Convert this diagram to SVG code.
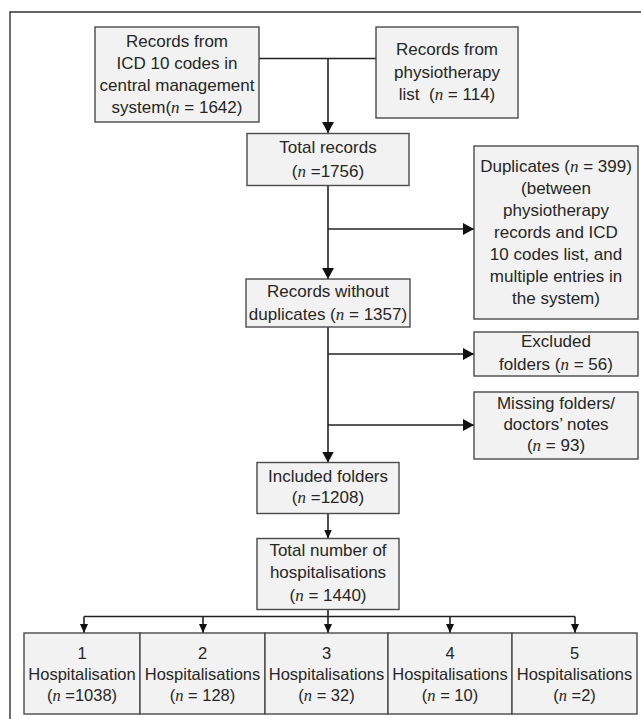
<svg xmlns="http://www.w3.org/2000/svg" width="641" height="719" viewBox="0 0 641 719">
<style>
.bx{fill:#f2f2f2;stroke:#4a4a4a;stroke-width:1.4}
.t{font-family:"Liberation Sans",Arial,sans-serif;font-size:17px;fill:#262626;text-anchor:middle}
.s{font-size:16.5px}
.n{font-family:"Liberation Serif","Times New Roman",serif;font-style:italic}
.c{fill:none;stroke:#222;stroke-width:1.6}
.f{fill:none;stroke:#333;stroke-width:1.4}
</style>
<defs>
<marker id="ab" viewBox="0 0 11 12" refX="11" refY="6" markerWidth="11" markerHeight="12" markerUnits="userSpaceOnUse" orient="auto"><path d="M0,0 L11,6 L0,12 z" fill="#111"/></marker>
<marker id="as" viewBox="0 0 9 8" refX="9" refY="4" markerWidth="9" markerHeight="8" markerUnits="userSpaceOnUse" orient="auto"><path d="M0,0 L9,4 L0,8 z" fill="#111"/></marker>
</defs>
<rect width="641" height="719" fill="#fff"/>
<path class="f" d="M10,719 V12 H641"/>

<g id="connectors">
<path class="c" d="M259,58.5 H376"/>
<path class="c" d="M328,58.5 V133" marker-end="url(#ab)"/>
<path class="c" d="M328,185 V279" marker-end="url(#ab)"/>
<path class="c" d="M328,229 H474" marker-end="url(#ab)"/>
<path class="c" d="M328,327 V462.5" marker-end="url(#ab)"/>
<path class="c" d="M328,354 H474" marker-end="url(#ab)"/>
<path class="c" d="M328,425 H474" marker-end="url(#ab)"/>
<path class="c" d="M328,513.5 V538.5" marker-end="url(#as)"/>
<path class="c" d="M328,609 V616.5 M84,616.5 H575"/>
<path class="c" d="M84,616.5 V633" marker-end="url(#as)"/>
<path class="c" d="M203,616.5 V633" marker-end="url(#as)"/>
<path class="c" d="M328,616.5 V633" marker-end="url(#as)"/>
<path class="c" d="M450,616.5 V633" marker-end="url(#as)"/>
<path class="c" d="M575,616.5 V633" marker-end="url(#as)"/>
</g>

<g id="icd">
<rect class="bx" x="95" y="27" width="164" height="95"/>
<text class="t" x="177" y="47">Records from</text>
<text class="t" x="177" y="69">ICD 10 codes in</text>
<text class="t" x="177" y="91">central management</text>
<text class="t" x="177" y="113">system(<tspan class="n">n</tspan> = 1642)</text>
</g>

<g id="physio">
<rect class="bx" x="376" y="27" width="142" height="91"/>
<text class="t" x="447" y="55">Records from</text>
<text class="t" x="447" y="78">physiotherapy</text>
<text class="t" x="447" y="100" xml:space="preserve">list  (<tspan class="n">n</tspan> = 114)</text>
</g>

<g id="total">
<rect class="bx" x="247" y="133.5" width="162" height="52"/>
<text class="t" x="328" y="153">Total records</text>
<text class="t" x="328" y="177">(<tspan class="n">n</tspan> =1756)</text>
</g>

<g id="duplicates">
<rect class="bx" x="474" y="146" width="164" height="173"/>
<text class="t" x="556" y="172">Duplicates (<tspan class="n">n</tspan> = 399)</text>
<text class="t" x="556" y="194">(between</text>
<text class="t" x="556" y="216">physiotherapy</text>
<text class="t" x="556" y="238">records and ICD</text>
<text class="t" x="556" y="260">10 codes list, and</text>
<text class="t" x="556" y="282">multiple entries in</text>
<text class="t" x="556" y="304">the system)</text>
</g>

<g id="nodup">
<rect class="bx" x="246" y="279" width="164" height="48"/>
<text class="t" x="328" y="297">Records without</text>
<text class="t" x="328" y="320">duplicates (<tspan class="n">n</tspan> = 1357)</text>
</g>

<g id="excluded">
<rect class="bx" x="474" y="332" width="164" height="44"/>
<text class="t" x="556" y="347">Excluded</text>
<text class="t" x="556" y="370">folders (<tspan class="n">n</tspan> = 56)</text>
</g>

<g id="missing">
<rect class="bx" x="474" y="392" width="164" height="67"/>
<text class="t" x="556" y="409">Missing folders/</text>
<text class="t" x="556" y="430">doctors’ notes</text>
<text class="t" x="556" y="451">(<tspan class="n">n</tspan> = 93)</text>
</g>

<g id="included">
<rect class="bx" x="257" y="462.5" width="142" height="51"/>
<text class="t" x="328" y="482">Included folders</text>
<text class="t" x="328" y="503">(<tspan class="n">n</tspan> =1208)</text>
</g>

<g id="hosp">
<rect class="bx" x="257" y="538.5" width="142" height="71"/>
<text class="t" x="328" y="556">Total number of</text>
<text class="t" x="328" y="578">hospitalisations</text>
<text class="t" x="328" y="601">(<tspan class="n">n</tspan> = 1440)</text>
</g>

<g id="h1">
<rect class="bx" x="24" y="633" width="116" height="81"/>
<text class="t s" x="82" y="659">1</text>
<text class="t s" x="82" y="680">Hospitalisation</text>
<text class="t s" x="82" y="701">(<tspan class="n">n</tspan> =1038)</text>
</g>
<g id="h2">
<rect class="bx" x="140" y="633" width="125" height="81"/>
<text class="t s" x="202.5" y="659">2</text>
<text class="t s" x="202.5" y="680">Hospitalisations</text>
<text class="t s" x="202.5" y="701">(<tspan class="n">n</tspan> = 128)</text>
</g>
<g id="h3">
<rect class="bx" x="265" y="633" width="123" height="81"/>
<text class="t s" x="326.5" y="659">3</text>
<text class="t s" x="326.5" y="680">Hospitalisations</text>
<text class="t s" x="326.5" y="701">(<tspan class="n">n</tspan> = 32)</text>
</g>
<g id="h4">
<rect class="bx" x="388" y="633" width="124" height="81"/>
<text class="t s" x="450" y="659">4</text>
<text class="t s" x="450" y="680">Hospitalisations</text>
<text class="t s" x="450" y="701">(<tspan class="n">n</tspan> = 10)</text>
</g>
<g id="h5">
<rect class="bx" x="512" y="633" width="125" height="81"/>
<text class="t s" x="574.5" y="659">5</text>
<text class="t s" x="574.5" y="680">Hospitalisations</text>
<text class="t s" x="574.5" y="701">(<tspan class="n">n</tspan> =2)</text>
</g>
</svg>
